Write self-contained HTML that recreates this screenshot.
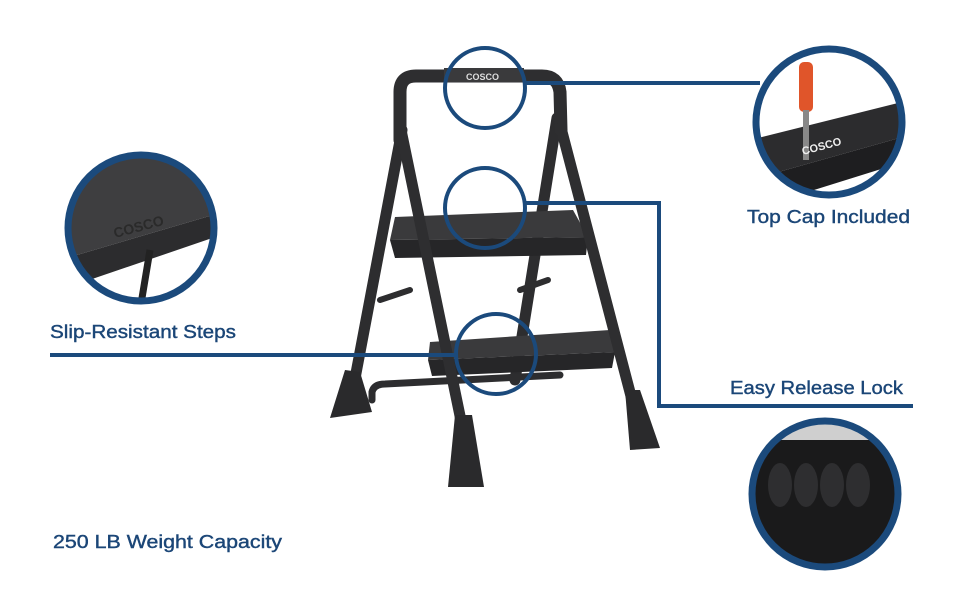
<!DOCTYPE html>
<html><head><meta charset="utf-8"><style>
html,body{margin:0;padding:0;background:#fff;}
svg{display:block;}
text{font-family:"Liberation Sans",sans-serif;fill:#1b4677;font-size:18px;}
.lab{stroke:#1b4677;stroke-width:0.4px;}
</style></head><body>
<svg width="970" height="600" viewBox="0 0 970 600" xmlns="http://www.w3.org/2000/svg">
<defs>
<clipPath id="cl"><circle cx="141" cy="228" r="72"/></clipPath>
<clipPath id="ct"><circle cx="829" cy="122" r="72"/></clipPath>
<clipPath id="cb"><circle cx="825" cy="494" r="72"/></clipPath>
</defs>
<g stroke="#2d2d2f" stroke-linecap="round" fill="none">
<line x1="402" y1="130" x2="350" y2="405" stroke-width="11"/>
<line x1="557" y1="118" x2="515" y2="380" stroke-width="11"/>
<line x1="380" y1="300" x2="410" y2="290" stroke-width="6"/>
<line x1="520" y1="290" x2="548" y2="280" stroke-width="6"/>
<path d="M372 400 L372 392 Q374 384 385 384 L560 375" stroke-width="7"/>
</g>
<polygon points="345,370 360,372 372,412 330,418" fill="#2a2a2c"/>
<polygon points="395,217 573,210 588,237 390,240" fill="#3a3a3c"/>
<polygon points="390,240 588,237 586,255 395,258" fill="#262628"/>
<polygon points="430,342 610,330 615,352 428,360" fill="#3a3a3c"/>
<polygon points="428,360 615,352 612,368 432,376" fill="#262628"/>
<g stroke="#2e2e30" stroke-linecap="round" fill="none">
<path d="M400 140 L400 92 Q400 76 416 76 L542 76 Q558 76 560 92 L561 130" stroke-width="13"/>
<line x1="401" y1="130" x2="465" y2="440" stroke-width="11"/>
<line x1="561" y1="128" x2="632" y2="400" stroke-width="11"/>
</g>
<rect x="444" y="68" width="80" height="14" fill="#3a3a3c"/>
<text x="466" y="80" style="fill:#ddd;font-size:9px;font-weight:bold">COSCO</text>
<polygon points="455,415 472,415 484,487 448,487" fill="#2a2a2c"/>
<polygon points="625,390 640,390 660,448 630,450" fill="#2a2a2c"/>
<g stroke="#1b4a7c" stroke-width="4" fill="none">
<circle cx="485" cy="88" r="40"/>
<circle cx="485" cy="208" r="40"/>
<circle cx="496" cy="354" r="40"/>
<line x1="525" y1="83" x2="760" y2="83"/>
<polyline points="525,203 659,203 659,406 913,406"/>
<line x1="50" y1="355" x2="456" y2="355"/>
</g>
<g clip-path="url(#cl)">
<rect x="60" y="150" width="170" height="160" fill="#fff"/>
<polygon points="60,150 230,150 230,210 60,260" fill="#3e3e40"/>
<polygon points="60,260 230,210 230,232 60,290" fill="#2c2c2e"/>
<line x1="150" y1="250" x2="140" y2="310" stroke="#222" stroke-width="7"/>
<text x="115" y="238" transform="rotate(-15 115 238)" style="fill:#2a2a2a;font-size:14px;font-weight:bold">COSCO</text>
</g>
<circle cx="141" cy="228" r="73" fill="none" stroke="#1b4a7c" stroke-width="7"/>
<g clip-path="url(#ct)">
<rect x="750" y="45" width="160" height="160" fill="#fff"/>
<polygon points="750,140 910,100 910,135 750,180" fill="#2c2c2e"/>
<polygon points="750,180 910,135 910,160 750,210" fill="#1e1e20"/>
<rect x="799" y="62" width="14" height="50" rx="5" fill="#e0552a"/>
<rect x="803" y="110" width="6" height="50" fill="#888"/>
<text x="803" y="155" transform="rotate(-15 803 155)" style="fill:#eee;font-size:11px;font-weight:bold">COSCO</text>
</g>
<circle cx="829" cy="122" r="73" fill="none" stroke="#1b4a7c" stroke-width="7"/>
<g clip-path="url(#cb)">
<rect x="745" y="415" width="160" height="160" fill="#1a1a1b"/>
<rect x="745" y="415" width="160" height="25" fill="#cfcfcf"/>
<g fill="#2e2e30"><ellipse cx="780" cy="485" rx="12" ry="22"/><ellipse cx="806" cy="485" rx="12" ry="22"/><ellipse cx="832" cy="485" rx="12" ry="22"/><ellipse cx="858" cy="485" rx="12" ry="22"/></g>
</g>
<circle cx="825" cy="494" r="73" fill="none" stroke="#1b4a7c" stroke-width="7"/>
<text class="lab" x="747" y="223" textLength="163" lengthAdjust="spacingAndGlyphs">Top Cap Included</text>
<text class="lab" x="50" y="338" textLength="186" lengthAdjust="spacingAndGlyphs">Slip-Resistant Steps</text>
<text class="lab" x="730" y="394" textLength="173" lengthAdjust="spacingAndGlyphs">Easy Release Lock</text>
<text class="lab" x="53" y="548" textLength="229" lengthAdjust="spacingAndGlyphs">250 LB Weight Capacity</text>
</svg>
</body></html>
